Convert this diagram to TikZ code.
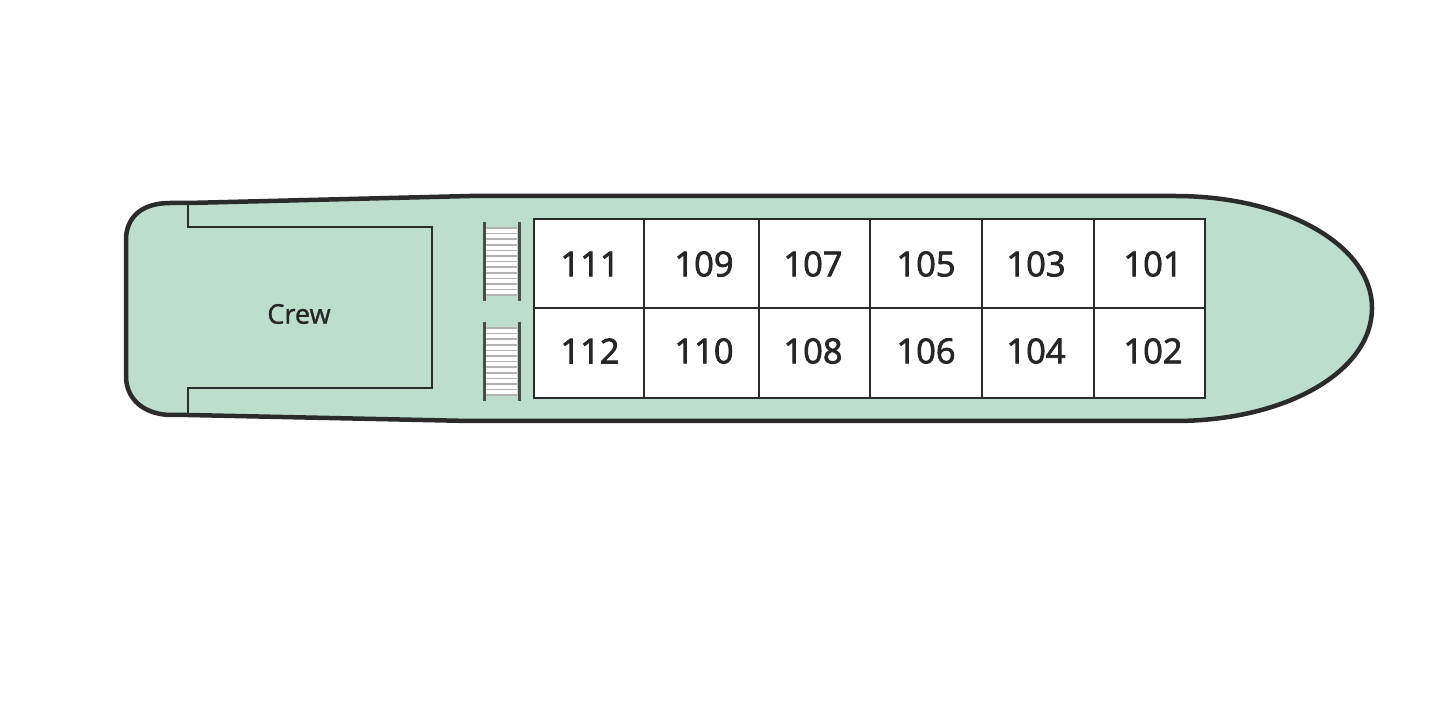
\documentclass[tikz,border=0pt]{standalone}
\usepackage{fontspec}
\setmainfont{Open Sans}
\newfontfamily\numfont[FakeBold=2.2]{Open Sans}
\newfontfamily\crewfont[FakeBold=1.2]{Open Sans}
\definecolor{deckgreen}{HTML}{BDDDCD}
\definecolor{deckline}{HTML}{2B2B2B}
\tikzset{
  hull/.style = {draw = deckline, fill = deckgreen, line width = 0.45mm, line join = round},
  wall/.style = {draw = deckline, line width = 0.25mm},
  rail/.style = {draw = deckline!85, line width = 0.3mm},
  tread/.style = {draw = gray!60, line width = 0.15mm},
  cabinnum/.style = {font = \numfont\fontsize{9.8}{11}\selectfont, text = black!85}
}

\begin{document}
\begin{tikzpicture}[x = 0.01cm, y = -0.01cm]
  \useasboundingbox (0, 0) rectangle (1440, 728);
  % hull
  \draw[hull] (188, 203) -- (470, 196) -- (1175, 196)
  .. controls (1285, 196) and (1372, 245) .. (1372, 308)
  .. controls (1372, 372) and (1285, 421) .. (1175, 421)
  -- (470, 421) -- (188, 415) -- (172, 415)
  .. controls (145, 415) and (126, 400) .. (126, 376)
  -- (126, 240)
  .. controls (126, 217) and (142, 203) .. (170, 203) -- cycle;

  % crew area
  \draw[wall] (188, 203) -- (188, 227) -- (432, 227) -- (432, 388) -- (188, 388) -- (188, 415);
  \node[font = \crewfont\fontsize{7.7}{9}\selectfont, text = black!85] (crew) at (299, 314) {Crew};

  % stairs
  \foreach \y in {222, 322} {
    \fill[white] (486, \y + 5) rectangle (517, \y + 74);
    \foreach \s in {0, ..., 12}
      \draw[tread] (486, \y + 6 + 5.6 * \s) -- (517, \y + 6 + 5.6 * \s);
    \draw[rail] (484, \y) -- (484, \y + 79);
    \draw[rail] (519, \y) -- (519, \y + 79);
  }

  % cabins
  \draw[wall, fill = white] (534, 219) rectangle (1205, 398);
  \draw[wall] (534, 308) -- (1205, 308);
  \foreach \x in {644, 759, 870, 982, 1094}
    \draw[wall] (\x, 219) -- (\x, 398);

  \foreach \x/\upper/\lower in {590/111/112, 704/109/110, 813/107/108, 926/105/106, 1036/103/104, 1153/101/102} {
    \node[cabinnum] (cabin\upper) at (\x, 264) {\upper};
    \node[cabinnum] (cabin\lower) at (\x, 351) {\lower};
  }
\end{tikzpicture}
\end{document}
